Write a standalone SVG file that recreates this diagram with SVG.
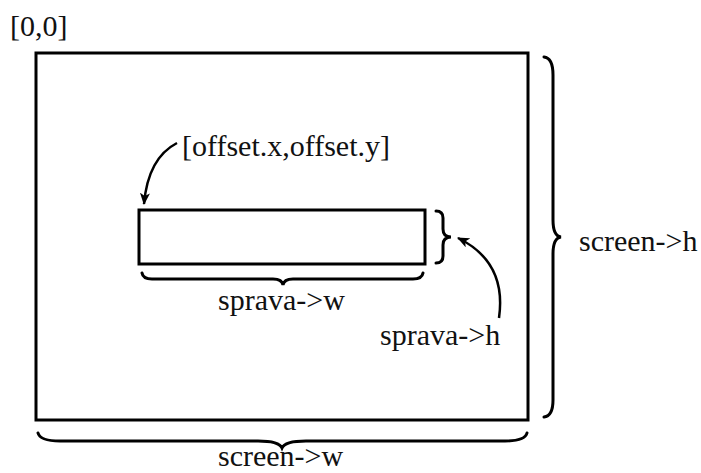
<svg xmlns="http://www.w3.org/2000/svg" width="701" height="473" viewBox="0 0 701 473">
<style>
text{font-family:"Liberation Serif","Times New Roman",serif;font-size:30px;fill:#111}
.box{fill:#fff;stroke:#000;stroke-width:3}
.br{fill:none;stroke:#000;stroke-width:3;stroke-linecap:round}
.ar{fill:none;stroke:#000;stroke-width:2.5}
</style>
<defs>
<marker id="ah" viewBox="0 0 12 10" refX="11" refY="5" markerWidth="12" markerHeight="10" markerUnits="userSpaceOnUse" orient="auto">
<path d="M0,0 L12,5 L0,10 L3,5 Z" fill="#000"/>
</marker>
</defs>
<rect width="701" height="473" fill="#fff"/>
<g id="screen">
<rect class="box" x="36" y="53" width="492" height="367"/>
<text x="10" y="36">[0,0]</text>
</g>
<g id="sprava">
<rect class="box" x="139" y="210" width="286" height="54"/>
</g>
<g id="braces">
<path class="br" d="M436,211 Q443,211 443,218 L443,229 Q443,237 451,237 Q443,237 443,245 L443,256 Q443,263 436,263"/>
<path class="br" d="M142,273 Q143,279 152,279 L273,279 Q282,279 283,285 Q284,279 293,279 L413,279 Q422,279 423,273"/>
<path class="br" d="M544,57 Q553,58 553,75 L553,220 Q553,236 561,237 Q553,238 553,254 L553,400 Q553,416 544,417"/>
<path class="br" d="M38,433 Q40,441 60,441 L258,441 Q279,441 282,448 Q285,441 306,441 L505,441 Q525,441 527,433"/>
</g>
<g id="labels">
<text x="182" y="156">[offset.x,offset.y]</text>
<text x="218" y="310">sprava-&gt;w</text>
<text x="380" y="345">sprava-&gt;h</text>
<text x="579" y="251">screen-&gt;h</text>
<text x="218" y="466">screen-&gt;w</text>
</g>
<g id="connectors">
<path class="ar" d="M177,143 Q148,158 144,204" marker-end="url(#ah)"/>
<path class="ar" d="M499,318 Q507,262 458,238" marker-end="url(#ah)"/>
</g>
</svg>
